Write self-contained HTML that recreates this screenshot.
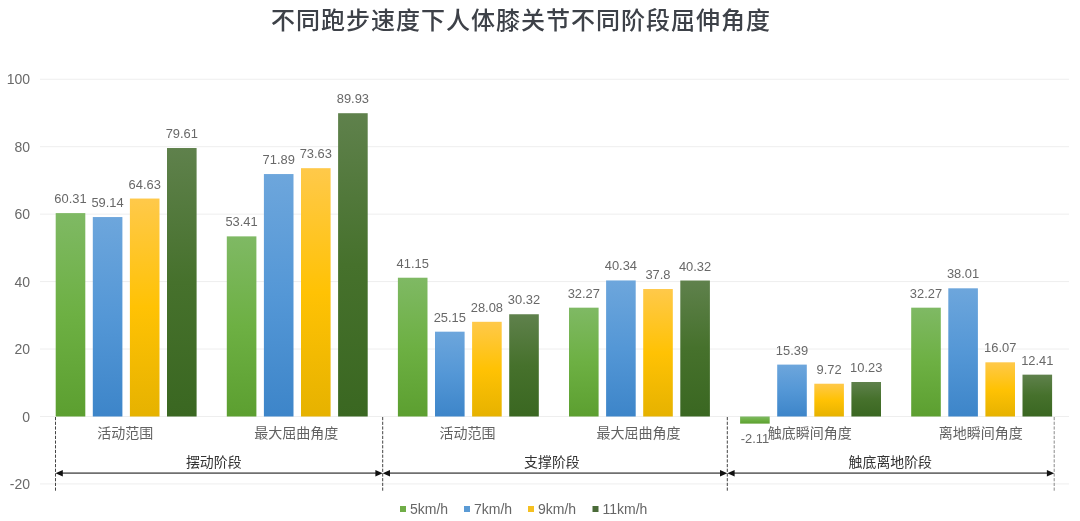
<!DOCTYPE html>
<html lang="zh"><head><meta charset="utf-8"><title>chart</title>
<style>
html,body{margin:0;padding:0;background:#fff;}
body{width:1080px;height:521px;overflow:hidden;font-family:"Liberation Sans","Noto Sans CJK SC",sans-serif;}
svg{display:block}
.ax{font-size:14px;fill:#696969;text-anchor:end}
.dl{font-size:12.9px;fill:#686868;text-anchor:middle}
.cat{font-size:14px;fill:#626262;text-anchor:middle}
.st{font-size:13.9px;fill:#333;text-anchor:middle}
.lg{font-size:14px;fill:#666}
.title{font-size:24px;font-weight:500;fill:#3d4148;text-anchor:middle;letter-spacing:1px}
</style></head><body>
<svg width="1080" height="521" viewBox="0 0 1080 521">
<defs>
<linearGradient id="g" x1="0" y1="0" x2="0" y2="1"><stop offset="0" stop-color="#7fb964"/><stop offset="0.5" stop-color="#6db043"/><stop offset="1" stop-color="#5c9f30"/></linearGradient>
<linearGradient id="b" x1="0" y1="0" x2="0" y2="1"><stop offset="0" stop-color="#6da6dc"/><stop offset="0.5" stop-color="#5497d6"/><stop offset="1" stop-color="#3d85c9"/></linearGradient>
<linearGradient id="y" x1="0" y1="0" x2="0" y2="1"><stop offset="0" stop-color="#ffc94a"/><stop offset="0.5" stop-color="#ffc204"/><stop offset="1" stop-color="#e6b200"/></linearGradient>
<linearGradient id="d" x1="0" y1="0" x2="0" y2="1"><stop offset="0" stop-color="#5f814c"/><stop offset="0.5" stop-color="#46712c"/><stop offset="1" stop-color="#3a6721"/></linearGradient>
</defs>
<rect width="1080" height="521" fill="#fff"/>
<text class="title" x="521" y="28.6">不同跑步速度下人体膝关节不同阶段屈伸角度</text>

<line x1="40" x2="1069" y1="79.25" y2="79.25" stroke="#eeeeee" stroke-width="1"/>
<text class="ax" x="30" y="84.25">100</text>
<line x1="40" x2="1069" y1="146.70" y2="146.70" stroke="#eeeeee" stroke-width="1"/>
<text class="ax" x="30" y="151.70">80</text>
<line x1="40" x2="1069" y1="214.15" y2="214.15" stroke="#eeeeee" stroke-width="1"/>
<text class="ax" x="30" y="219.15">60</text>
<line x1="40" x2="1069" y1="281.60" y2="281.60" stroke="#eeeeee" stroke-width="1"/>
<text class="ax" x="30" y="286.60">40</text>
<line x1="40" x2="1069" y1="349.05" y2="349.05" stroke="#eeeeee" stroke-width="1"/>
<text class="ax" x="30" y="354.05">20</text>
<line x1="40" x2="1069" y1="416.50" y2="416.50" stroke="#eeeeee" stroke-width="1"/>
<text class="ax" x="30" y="421.50">0</text>
<line x1="40" x2="1069" y1="483.95" y2="483.95" stroke="#eeeeee" stroke-width="1"/>
<text class="ax" x="30" y="488.95">-20</text>
<rect x="55.70" y="213.10" width="29.6" height="203.40" fill="url(#g)"/>
<text class="dl" x="70.50" y="203.10">60.31</text>
<rect x="92.80" y="217.05" width="29.6" height="199.45" fill="url(#b)"/>
<text class="dl" x="107.60" y="207.05">59.14</text>
<rect x="129.90" y="198.54" width="29.6" height="217.96" fill="url(#y)"/>
<text class="dl" x="144.70" y="188.54">64.63</text>
<rect x="167.00" y="148.02" width="29.6" height="268.48" fill="url(#d)"/>
<text class="dl" x="181.80" y="138.02">79.61</text>
<text class="cat" x="125.25" y="437.8">活动范围</text>
<rect x="226.80" y="236.37" width="29.6" height="180.13" fill="url(#g)"/>
<text class="dl" x="241.60" y="226.37">53.41</text>
<rect x="263.90" y="174.05" width="29.6" height="242.45" fill="url(#b)"/>
<text class="dl" x="278.70" y="164.05">71.89</text>
<rect x="301.00" y="168.18" width="29.6" height="248.32" fill="url(#y)"/>
<text class="dl" x="315.80" y="158.18">73.63</text>
<rect x="338.10" y="113.21" width="29.6" height="303.29" fill="url(#d)"/>
<text class="dl" x="352.90" y="103.21">89.93</text>
<text class="cat" x="296.35" y="437.8">最大屈曲角度</text>
<rect x="397.90" y="277.72" width="29.6" height="138.78" fill="url(#g)"/>
<text class="dl" x="412.70" y="267.72">41.15</text>
<rect x="435.00" y="331.68" width="29.6" height="84.82" fill="url(#b)"/>
<text class="dl" x="449.80" y="321.68">25.15</text>
<rect x="472.10" y="321.80" width="29.6" height="94.70" fill="url(#y)"/>
<text class="dl" x="486.90" y="311.80">28.08</text>
<rect x="509.20" y="314.25" width="29.6" height="102.25" fill="url(#d)"/>
<text class="dl" x="524.00" y="304.25">30.32</text>
<text class="cat" x="467.45" y="437.8">活动范围</text>
<rect x="569.00" y="307.67" width="29.6" height="108.83" fill="url(#g)"/>
<text class="dl" x="583.80" y="297.67">32.27</text>
<rect x="606.10" y="280.45" width="29.6" height="136.05" fill="url(#b)"/>
<text class="dl" x="620.90" y="270.45">40.34</text>
<rect x="643.20" y="289.02" width="29.6" height="127.48" fill="url(#y)"/>
<text class="dl" x="658.00" y="279.02">37.8</text>
<rect x="680.30" y="280.52" width="29.6" height="135.98" fill="url(#d)"/>
<text class="dl" x="695.10" y="270.52">40.32</text>
<text class="cat" x="638.55" y="437.8">最大屈曲角度</text>
<rect x="740.10" y="416.50" width="29.6" height="7.12" fill="url(#g)"/>
<text class="dl" x="754.90" y="442.92">-2.11</text>
<rect x="777.20" y="364.60" width="29.6" height="51.90" fill="url(#b)"/>
<text class="dl" x="792.00" y="354.60">15.39</text>
<rect x="814.30" y="383.72" width="29.6" height="32.78" fill="url(#y)"/>
<text class="dl" x="829.10" y="373.72">9.72</text>
<rect x="851.40" y="382.00" width="29.6" height="34.50" fill="url(#d)"/>
<text class="dl" x="866.20" y="372.00">10.23</text>
<text class="cat" x="809.65" y="437.8">触底瞬间角度</text>
<rect x="911.20" y="307.67" width="29.6" height="108.83" fill="url(#g)"/>
<text class="dl" x="926.00" y="297.67">32.27</text>
<rect x="948.30" y="288.31" width="29.6" height="128.19" fill="url(#b)"/>
<text class="dl" x="963.10" y="278.31">38.01</text>
<rect x="985.40" y="362.30" width="29.6" height="54.20" fill="url(#y)"/>
<text class="dl" x="1000.20" y="352.30">16.07</text>
<rect x="1022.50" y="374.65" width="29.6" height="41.85" fill="url(#d)"/>
<text class="dl" x="1037.30" y="364.65">12.41</text>
<text class="cat" x="980.75" y="437.8">离地瞬间角度</text>
<line x1="55.5" x2="55.5" y1="417" y2="491.5" stroke="#444" stroke-width="1" stroke-dasharray="3.2 1.5"/>
<line x1="382.7" x2="382.7" y1="417" y2="491.5" stroke="#444" stroke-width="1" stroke-dasharray="3.2 1.5"/>
<line x1="727.3" x2="727.3" y1="417" y2="491.5" stroke="#444" stroke-width="1" stroke-dasharray="3.2 1.5"/>
<line x1="1054.2" x2="1054.2" y1="417" y2="491.5" stroke="#8a8a8a" stroke-width="1" stroke-dasharray="3.2 1.5"/>
<line x1="60.5" x2="377.7" y1="473.2" y2="473.2" stroke="#707070" stroke-width="1.8"/>
<polygon points="55.5,473.2 62.8,470 62.8,476.4" fill="#111"/>
<polygon points="382.7,473.2 375.4,470 375.4,476.4" fill="#111"/>
<text class="st" x="213.75" y="467">摆动阶段</text>
<line x1="387.7" x2="722.3" y1="473.2" y2="473.2" stroke="#707070" stroke-width="1.8"/>
<polygon points="382.7,473.2 390.0,470 390.0,476.4" fill="#111"/>
<polygon points="727.3,473.2 720.0,470 720.0,476.4" fill="#111"/>
<text class="st" x="551.9" y="467">支撑阶段</text>
<line x1="732.3" x2="1049.2" y1="473.2" y2="473.2" stroke="#707070" stroke-width="1.8"/>
<polygon points="727.3,473.2 734.5999999999999,470 734.5999999999999,476.4" fill="#111"/>
<polygon points="1054.2,473.2 1046.9,470 1046.9,476.4" fill="#111"/>
<text class="st" x="890.3" y="467">触底离地阶段</text>
<rect x="400" y="506" width="6" height="6" fill="#70ad47"/>
<text class="lg" x="410" y="513.8">5km/h</text>
<rect x="464" y="506" width="6" height="6" fill="#5b9bd5"/>
<text class="lg" x="474" y="513.8">7km/h</text>
<rect x="528" y="506" width="6" height="6" fill="#f5c021"/>
<text class="lg" x="538" y="513.8">9km/h</text>
<rect x="592.5" y="506" width="6" height="6" fill="#4a6b38"/>
<text class="lg" x="602.5" y="513.8">11km/h</text>
</svg></body></html>
